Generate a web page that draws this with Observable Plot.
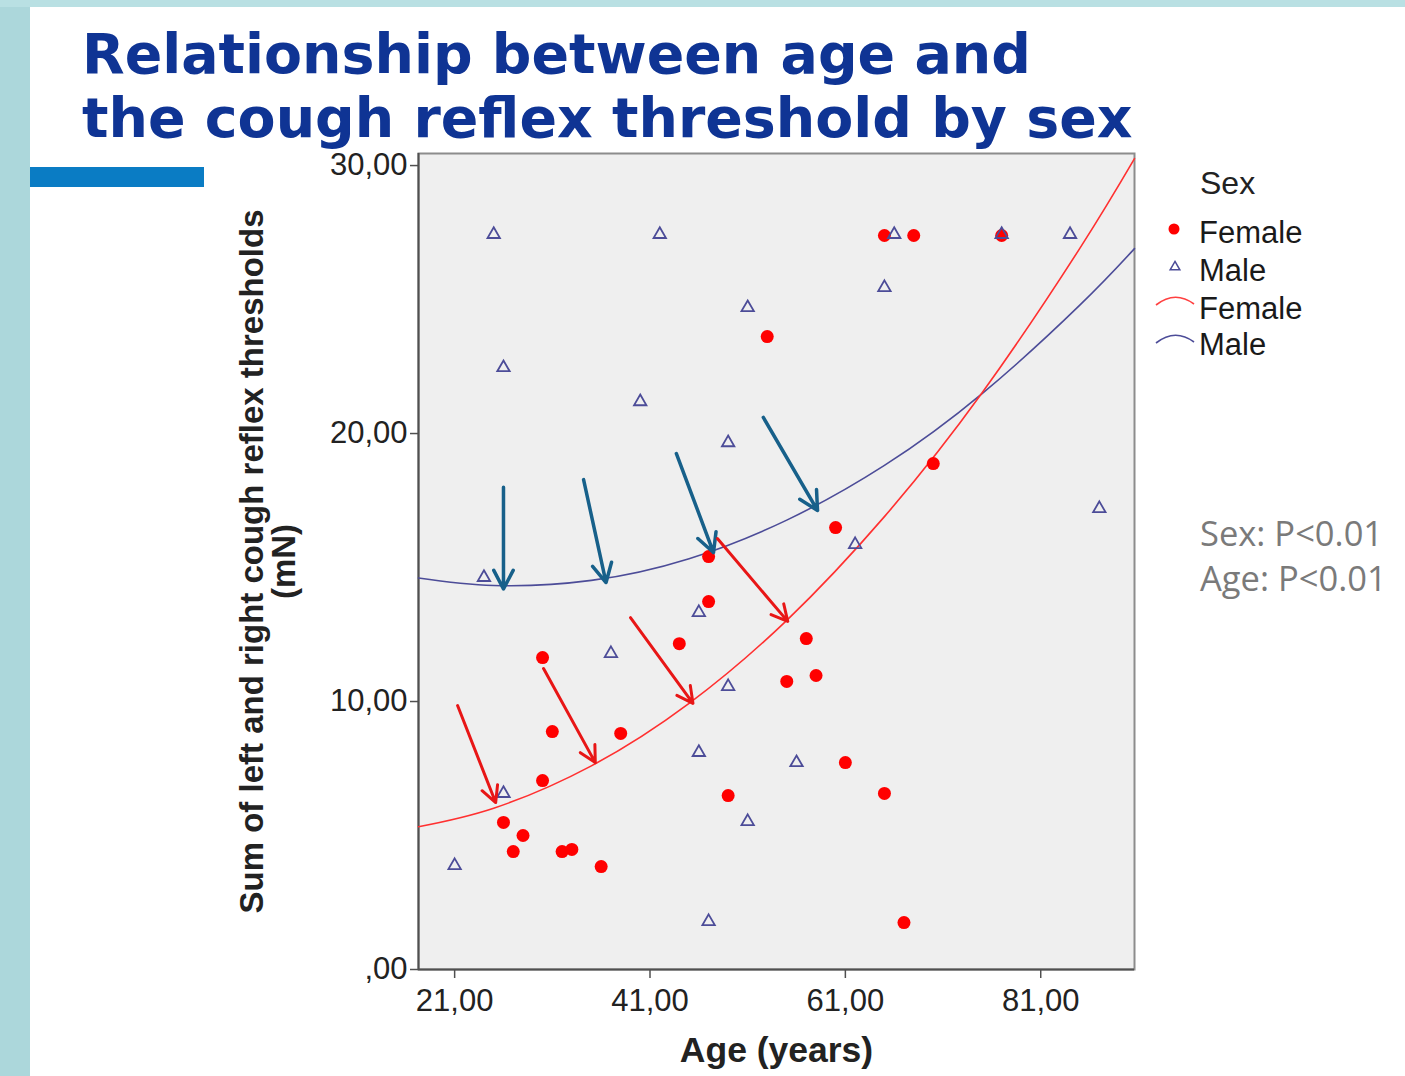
<!DOCTYPE html>
<html>
<head>
<meta charset="utf-8">
<script src="https://cdn.jsdelivr.net/npm/d3@7"></script>
<script src="https://cdn.jsdelivr.net/npm/@observablehq/plot@0.6"></script>
<style>
  body { margin: 0; background: #fff; }
  #page { position: relative; width: 1405px; height: 1076px; overflow: hidden; background: #fff; }
  #chart { position: absolute; left: 0; top: 0; }
  .abs { position: absolute; }
  #overlay { position: absolute; left: 0; top: 0; pointer-events: none; }
</style>
</head>
<body>
<div id="page">
  <div id="chart"></div>
  <div class="abs" style="left:0;top:0;width:30px;height:1076px;background:#acd7db;"></div>
  <div class="abs" style="left:0;top:0;width:1405px;height:7px;background:#b9e0e3;"></div>
  <div class="abs" style="left:30px;top:167px;width:174px;height:20px;background:#0a7cc4;"></div>
  <svg id="overlay" width="1405" height="1076"></svg>
</div>
<script>
// ---- data ----
const femaleAge = [65, 68, 77, 53, 70, 60, 47, 47, 44, 57, 30, 55, 58, 31, 38, 61, 30, 65, 49, 26, 28, 27, 32, 33, 36, 67];
const femaleVal = [27.39, 27.39, 27.39, 23.62, 18.88, 16.49, 15.41, 13.73, 12.16, 12.35, 11.64, 10.75, 10.97, 8.88, 8.81, 7.72, 7.05, 6.57, 6.49, 5.49, 5.0, 4.4, 4.4, 4.48, 3.84, 1.75];
const maleAge = [25, 42, 66, 77, 84, 26, 51, 40, 65, 49, 87, 62, 24, 37, 46, 49, 46, 56, 51, 26, 21, 47];
const maleVal = [27.43, 27.43, 27.43, 27.43, 27.43, 22.46, 24.70, 21.19, 25.45, 19.66, 17.2, 15.86, 14.63, 11.79, 13.32, 10.56, 8.10, 7.72, 5.52, 6.57, 3.88, 1.79];

// fitted quadratic curves
const fitAge = [17.3, 25, 35, 45, 55, 65, 75, 85, 90.6];
const femaleFit = [5.33, 6.02, 7.60, 9.93, 13.03, 16.90, 21.52, 26.91, 30.26];
const maleFit = [14.61, 14.33, 14.52, 15.33, 16.77, 18.81, 21.49, 24.79, 26.90];

// annotation arrows (start -> end)
const maleArrowAgeFrom = [26.0, 34.2, 43.7, 52.6];
const maleArrowValFrom = [18.0, 18.28, 19.25, 20.6];
const maleArrowAgeTo = [26.0, 36.5, 47.5, 58.15];
const maleArrowValTo = [14.2, 14.44, 15.56, 17.13];
const femaleArrowAgeFrom = [21.3, 30.1, 39.0, 47.9];
const femaleArrowValFrom = [9.85, 11.23, 13.13, 16.08];
const femaleArrowAgeTo = [25.2, 35.4, 45.4, 55.1];
const femaleArrowValTo = [6.23, 7.72, 9.93, 12.99];

const xTicks = [21, 41, 61, 81];
const xTickLabels = ["21,00", "41,00", "61,00", "81,00"];
const yTicks = [0, 10, 20, 30];
const yTickLabels = [",00", "10,00", "20,00", "30,00"];
const xDomain = [17.3, 90.6];
const yDomain = [0, 30.45];

const xLabel = "Age (years)";
const yLabel = "Sum of left and right cough reflex thresholds\n(mN)";
const titleLines = ["Relationship between age and", "the cough reflex threshold by sex"];
const legendTitle = "Sex";
const legendLabels = ["Female", "Male", "Female", "Male"];
const statLines = ["Sex: P<0.01", "Age: P<0.01"];

// ---- build tables ----
const female = femaleAge.map((a, i) => ({age: a, val: femaleVal[i]}));
const male = maleAge.map((a, i) => ({age: a, val: maleVal[i]}));
const femaleCurve = fitAge.map((a, i) => ({age: a, val: femaleFit[i]}));
const maleCurve = fitAge.map((a, i) => ({age: a, val: maleFit[i]}));
const maleArrows = maleArrowAgeFrom.map((a, i) => ({x1: a, y1: maleArrowValFrom[i], x2: maleArrowAgeTo[i], y2: maleArrowValTo[i]}));
const femaleArrows = femaleArrowAgeFrom.map((a, i) => ({x1: a, y1: femaleArrowValFrom[i], x2: femaleArrowAgeTo[i], y2: femaleArrowValTo[i]}));

const RED = "#ff0000";
const NAVY = "#4c4c98";
const FONT = "'Liberation Sans', Arial, sans-serif";

const chart = Plot.plot({
  width: 1405,
  height: 1076,
  marginLeft: 418,
  marginRight: 271,
  marginTop: 153,
  marginBottom: 107,
  style: {background: "transparent", fontFamily: FONT, color: "#222", overflow: "visible"},
  x: {domain: xDomain},
  y: {domain: yDomain},
  marks: [
    Plot.frame({fill: "#efefef", stroke: "none"}),
    Plot.frame({stroke: "#8c8c8c", strokeWidth: 2}),
    Plot.ruleX([xDomain[0]], {stroke: "#505050", strokeWidth: 2}),
    Plot.ruleY([yDomain[0]], {stroke: "#505050", strokeWidth: 2}),
    Plot.axisY(yTicks, {tickSize: 8, tickPadding: 3, fontSize: 31, stroke: "#505050", strokeWidth: 1.5,
      tickFormat: d => yTickLabels[yTicks.indexOf(d)], label: null}),
    Plot.axisX(xTicks, {tickSize: 9, tickPadding: 10, fontSize: 31, stroke: "#505050", strokeWidth: 1.5,
      tickFormat: d => xTickLabels[xTicks.indexOf(d)], label: null}),
    Plot.text([xLabel], {frameAnchor: "bottom", dy: 81, fontSize: 35.5, fontWeight: "bold", fill: "#222", lineAnchor: "middle"}),
    Plot.text([yLabel], {frameAnchor: "left", textAnchor: "middle", dx: -150, rotate: -90, fontSize: 33, fontWeight: "bold", fill: "#222", lineAnchor: "middle", lineHeight: 0.97}),
    Plot.line(maleCurve, {x: "age", y: "val", stroke: NAVY, strokeWidth: 1.6, curve: "natural"}),
    Plot.line(femaleCurve, {x: "age", y: "val", stroke: "#ff3030", strokeWidth: 1.6, curve: "natural"}),
    Plot.dot(female, {x: "age", y: "val", r: 6.5, fill: RED, stroke: "none"}),
    Plot.dot(male, {x: "age", y: "val", symbol: "triangle", r: 4.6, fill: "none", stroke: NAVY, strokeWidth: 1.8}),
    Plot.arrow(maleArrows, {x1: "x1", y1: "y1", x2: "x2", y2: "y2", stroke: "#17608a", strokeWidth: 3.5, headLength: 9, headAngle: 55}),
    Plot.arrow(femaleArrows, {x1: "x1", y1: "y1", x2: "x2", y2: "y2", stroke: "#e81616", strokeWidth: 3, headLength: 9, headAngle: 55})
  ]
});
document.getElementById("chart").appendChild(chart);

// ---- title, legend, statistics (real text) ----
const ov = d3.select("#overlay");
ov.selectAll("text.title").data(titleLines).join("text")
  .attr("class", "title")
  .attr("x", 82).attr("y", (d, i) => 73 + i * 64)
  .attr("font-family", "'DejaVu Sans', Verdana, sans-serif")
  .attr("font-weight", "bold").attr("font-size", 55.4)
  .attr("fill", "#0f3494")
  .text(d => d);

ov.append("text").attr("x", 1200).attr("y", 194)
  .attr("font-family", FONT).attr("font-size", 32).attr("fill", "#222").text(legendTitle);

const legendBase = [243, 281, 319, 355];
ov.selectAll("text.leg").data(legendLabels).join("text")
  .attr("class", "leg")
  .attr("x", 1199).attr("y", (d, i) => legendBase[i])
  .attr("font-family", FONT).attr("font-size", 31).attr("fill", "#1a1a1a")
  .text(d => d);
ov.append("circle").attr("cx", 1174).attr("cy", 229).attr("r", 5.5).attr("fill", RED);
ov.append("path").attr("d", d3.symbol(d3.symbolTriangle, Math.PI * 3.6 * 3.6)()).attr("transform", "translate(1175,267)")
  .attr("fill", "none").attr("stroke", NAVY).attr("stroke-width", 1.5);
ov.append("path").attr("d", "M1156,305 Q1175,290 1194,304").attr("fill", "none").attr("stroke", "#ff4040").attr("stroke-width", 1.6);
ov.append("path").attr("d", "M1156,343 Q1175,328 1194,342").attr("fill", "none").attr("stroke", NAVY).attr("stroke-width", 1.6);

ov.selectAll("text.stat").data(statLines).join("text")
  .attr("class", "stat")
  .attr("x", 1200).attr("y", (d, i) => 546 + i * 45)
  .attr("font-family", "'Open Sans', 'Noto Sans', sans-serif").attr("font-size", 34.5)
  .attr("fill", "#7a7a7a")
  .text(d => d);
</script>
</body>
</html>
